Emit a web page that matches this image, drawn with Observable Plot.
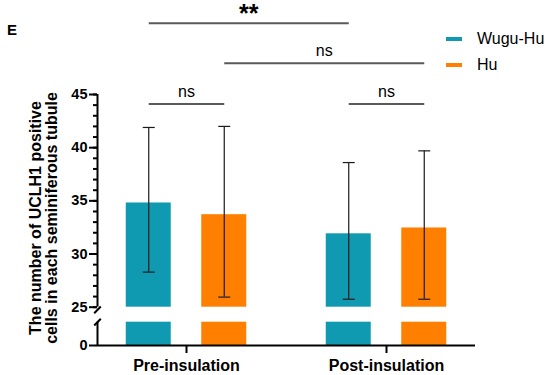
<!DOCTYPE html>
<html><head><meta charset="utf-8">
<script src="https://cdn.jsdelivr.net/npm/d3@7"></script>
<script src="https://cdn.jsdelivr.net/npm/@observablehq/plot@0.6"></script>
<style>
body{margin:0;background:#fff;}
#chart{position:relative;width:550px;height:375px;font-family:"Liberation Sans",Arial,sans-serif;color:#000;}
#chart svg{position:absolute;left:0;top:0;}
.lbl{position:absolute;white-space:pre;}
</style></head><body><div id="chart"></div>
<script>
// ---- data ----
const categories = ["Pre-insulation", "Post-insulation"];
const groups = ["Wugu-Hu", "Hu"];
const groupColors = ["#0f9ab1", "#ff8000"];
const wuguMean = [34.8, 31.9];
const wuguLow = [28.3, 25.75];
const wuguHigh = [41.9, 38.6];
const huMean = [33.7, 32.45];
const huLow = [25.95, 25.75];
const huHigh = [42.0, 39.7];
const yTicksMajor = [25, 30, 35, 40, 45];
const yTicksMinor = d3.range(25, 46, 1);
const yTicksLower = [0];
const bracketFrom = [[0, 0], [0, 1], [0, 0], [1, 0]];
const bracketTo = [[1, 0], [1, 1], [0, 1], [1, 1]];
const bracketLabels = ["**", "ns", "ns", "ns"];
const bracketLevels = [51.7, 47.95, 44.1, 44.1];

// ---- layout constants ----
const groupOffset = 0.18875, halfBar = 0.1125, capHalf = 0.03;
const xDomain = [-0.445, 1.445];
const brk = 0.0165;
const font = '"Liberation Sans", Arial, sans-serif';

const pos = (ci, gi) => ci + (gi - 0.5) * 2 * groupOffset;
const means = [wuguMean, huMean], lows = [wuguLow, huLow], highs = [wuguHigh, huHigh];
const rows = categories.flatMap((c, ci) => groups.map((g, gi) => ({
  category: c, group: g, xc: pos(ci, gi),
  mean: means[gi][ci], lo: lows[gi][ci], hi: highs[gi][ci]
})));
const brackets = bracketLabels.map((label, i) => ({
  label, level: bracketLevels[i],
  xa: pos(...bracketFrom[i]), xb: pos(...bracketTo[i])
}));

const common = {
  width: 550, height: 375, marginLeft: 97, marginRight: 75,
  x: {domain: xDomain, axis: null},
  color: {domain: groups, range: groupColors},
  style: {background: "transparent", overflow: "visible", fontFamily: font}
};

const upper = Plot.plot({
  ...common,
  marginTop: 94, marginBottom: 68.3,
  y: {domain: [25, 45], axis: null},
  marks: [
    Plot.rectY(rows, {x1: d => d.xc - halfBar, x2: d => d.xc + halfBar, y1: 25, y2: "mean", fill: "group"}),
    Plot.ruleX(rows, {x: "xc", y1: "lo", y2: "hi", stroke: "#1a1a1a", strokeWidth: 1.2}),
    Plot.link(rows, {x1: d => d.xc - capHalf, x2: d => d.xc + capHalf, y1: "hi", y2: "hi", stroke: "#1a1a1a", strokeWidth: 1.2}),
    Plot.link(rows, {x1: d => d.xc - capHalf, x2: d => d.xc + capHalf, y1: "lo", y2: "lo", stroke: "#1a1a1a", strokeWidth: 1.2}),
    Plot.ruleX([xDomain[0]], {y1: 25, y2: 45, strokeWidth: 2}),
    Plot.axisY({ticks: yTicksMinor, tickSize: 4, tickFormat: () => "", strokeWidth: 2}),
    Plot.axisY({ticks: yTicksMajor, tickSize: 8, tickPadding: 2, strokeWidth: 2, fontSize: 14.5, fontWeight: "bold", tickFormat: d => String(d)}),
    Plot.link([0], {x1: xDomain[0] - brk, x2: xDomain[0] + brk, y1: 24.43, y2: 25.07, strokeWidth: 2}),
    Plot.link(brackets, {x1: "xa", x2: "xb", y1: "level", y2: "level", stroke: "#5a5a5a", strokeWidth: 2}),
    Plot.text(brackets.filter(b => b.label === "ns"), {x: d => (d.xa + d.xb) / 2, y: "level", text: "label", lineAnchor: "bottom", dy: -7, fontSize: 16}),
    Plot.text(brackets.filter(b => b.label !== "ns"), {x: d => (d.xa + d.xb) / 2, y: "level", text: "label", lineAnchor: "bottom", dy: -1, fontSize: 25, fontWeight: "bold", letterSpacing: 1})
  ]
});

const lower = Plot.plot({
  ...common,
  marginTop: 321.7, marginBottom: 30,
  y: {domain: [0, 1], axis: null},
  marks: [
    Plot.rectY(rows, {x1: d => d.xc - halfBar, x2: d => d.xc + halfBar, y1: 0, y2: 1, fill: "group"}),
    Plot.ruleX([xDomain[0]], {y1: 0, y2: 1, strokeWidth: 2}),
    Plot.ruleY([0], {x1: xDomain[0], x2: xDomain[1], strokeWidth: 2}),
    Plot.axisY({ticks: yTicksLower, tickSize: 8, tickPadding: 2, strokeWidth: 2, fontSize: 14.5, fontWeight: "bold", tickFormat: d => String(d)}),
    Plot.axisX({ticks: [0, 1], tickFormat: i => categories[i], tickSize: 8, tickPadding: 6, strokeWidth: 2, fontSize: 16, fontWeight: "bold"}),
    Plot.link([0], {x1: xDomain[0] - brk, x2: xDomain[0] + brk, y1: 0.858, y2: 1.146, strokeWidth: 2})
  ]
});

const chart = document.getElementById("chart");
chart.appendChild(lower);
chart.appendChild(upper);

function addLabel(text, css) {
  const d = document.createElement("div");
  d.className = "lbl";
  d.textContent = text;
  Object.assign(d.style, css);
  chart.appendChild(d);
  return d;
}
addLabel("E", {left: "7px", top: "22px", fontSize: "15px", lineHeight: "15px", fontWeight: "bold"});
addLabel("The number of UCLH1 positive\ncells in each seminiferous tubule", {
  left: "44.2px", top: "218px", fontSize: "16px", lineHeight: "16px", fontWeight: "bold",
  textAlign: "center", transform: "translate(-50%,-50%) rotate(-90deg)"
});
groups.forEach((g, i) => {
  const sw = document.createElement("div");
  Object.assign(sw.style, {position: "absolute", left: "446px", top: (36.7 + 26 * i) + "px", width: "16px", height: "4px", background: groupColors[i]});
  chart.appendChild(sw);
  addLabel(g, {left: "477px", top: (30.5 + 26 * i) + "px", fontSize: "16px", lineHeight: "16px"});
});
</script></body></html>
